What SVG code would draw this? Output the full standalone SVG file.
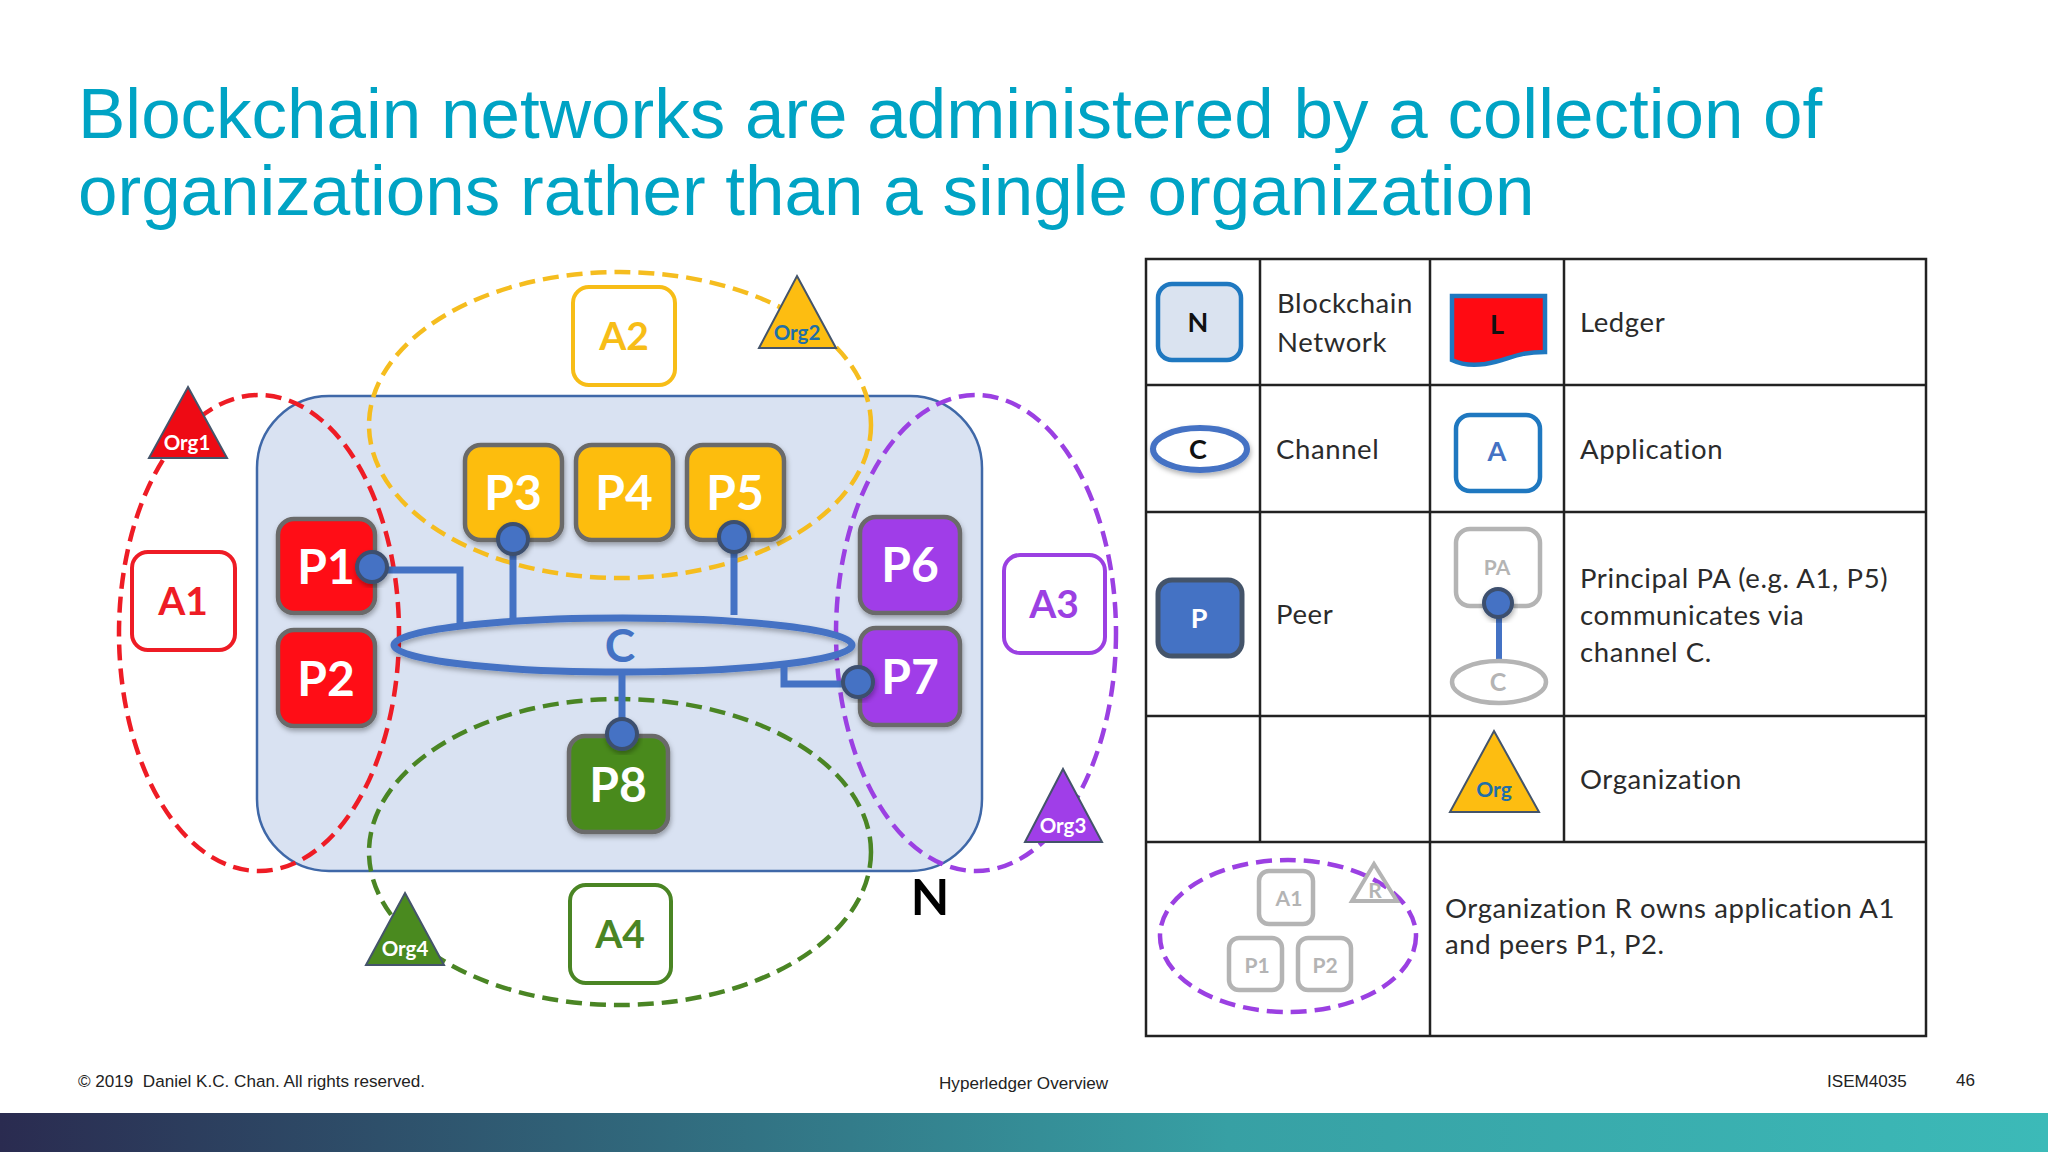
<svg xmlns="http://www.w3.org/2000/svg" width="2048" height="1152" viewBox="0 0 2048 1152">
<style>
text{font-family:"Lato","Liberation Sans",sans-serif;text-anchor:middle}
.title{font-family:"Liberation Sans",Arial,sans-serif;font-size:71px;fill:#00a3c4;text-anchor:start}
.foot{font-family:"Liberation Sans",Arial,sans-serif;font-size:17.1px;fill:#222;text-anchor:start;white-space:pre}
.peer{stroke:#6b6b6b;stroke-width:4.5;filter:url(#sh)}
.peertxt{fill:#fff;font-weight:700;font-size:48px}
.app{fill:#fff;stroke-width:4}
.apptxt{font-weight:700;font-size:39px}
.org{stroke:#44546a;stroke-width:2}
.orgtxt{font-weight:700;font-size:20.5px;fill:#fff}
.dash{fill:none;stroke-width:4.5;stroke-dasharray:16 8}
.dot{fill:#4472c4;stroke:#3c4f6e;stroke-width:4;filter:url(#sh)}
.wire{fill:none;stroke:#4472c4;stroke-width:7}
.grid{stroke:#222;stroke-width:2.5;fill:none}
.lg{fill:#2b2b2b;font-size:27.5px;text-anchor:start;letter-spacing:.6px}
.g{fill:#fff;stroke:#b4b4b4;stroke-width:4.5}
.gt{fill:#b4b4b4;font-weight:700;font-size:21px}
</style>
<defs>
<linearGradient id="bar"><stop offset="0" stop-color="#2a2b50"/><stop offset=".6" stop-color="#37a0a4"/><stop offset="1" stop-color="#3cbab8"/></linearGradient>
<filter id="sh" x="-20%" y="-20%" width="140%" height="140%"><feDropShadow dx="1" dy="3" stdDeviation="2.5" flood-color="#000" flood-opacity=".3"/></filter>
</defs>
<rect width="2048" height="1152" fill="#fff"/>
<text class="title" x="78" y="138">Blockchain networks are administered by a collection of</text>
<text class="title" x="78" y="215">organizations rather than a single organization</text>

<g id="network"><rect x="257" y="396" width="725" height="475" rx="72" fill="#d9e2f2" stroke="#3f68a8" stroke-width="2.5"/>
<text x="930" y="915" font-size="50" font-weight="700" fill="#000">N</text></g>

<g id="org-ellipses">
<ellipse class="dash" cx="259" cy="633" rx="140" ry="238" stroke="#ee1c25"/>
<ellipse class="dash" cx="620" cy="425" rx="251" ry="153" stroke="#f5bd1f"/>
<ellipse class="dash" cx="976" cy="633" rx="140" ry="238" stroke="#9b40e2"/>
<ellipse class="dash" cx="620" cy="852" rx="251" ry="153" stroke="#4a8524"/>
</g>

<g id="connectors">
<ellipse class="wire" cx="623" cy="645" rx="229" ry="27" style="filter:url(#sh)"/>
<path class="wire" d="M372 570H460V624M513 539V618M734 537V615M622 672V734M858 684H784V664"/>
</g>
<g id="channel"><text x="620" y="662" font-size="46" font-weight="700" fill="#4472c4">C</text></g>

<g id="A1"><rect class="app" x="132" y="552" width="103" height="98" rx="16" stroke="#ee1c25"/><text class="apptxt" x="183" y="615" fill="#ee1c25">A1</text></g>
<g id="A2"><rect class="app" x="573" y="287" width="102" height="98" rx="16" stroke="#f7bd17"/><text class="apptxt" x="624" y="350" fill="#f7bd17">A2</text></g>
<g id="A3"><rect class="app" x="1004" y="555" width="101" height="98" rx="16" stroke="#9b40e2"/><text class="apptxt" x="1054" y="618" fill="#9b40e2">A3</text></g>
<g id="A4"><rect class="app" x="570" y="885" width="101" height="98" rx="16" stroke="#4a8524"/><text class="apptxt" x="620" y="948" fill="#4a8524">A4</text></g>

<g id="P1"><rect class="peer" x="278" y="519" width="97" height="94" rx="16" fill="#ff0a12"/><text class="peertxt" x="326" y="584">P1</text></g>
<g id="P2"><rect class="peer" x="278" y="630" width="97" height="96" rx="16" fill="#ff0a12"/><text class="peertxt" x="326" y="696">P2</text></g>
<g id="P3"><rect class="peer" x="465" y="445" width="97" height="95" rx="16" fill="#fdbd11"/><text class="peertxt" x="513" y="510">P3</text></g>
<g id="P4"><rect class="peer" x="576" y="445" width="97" height="95" rx="16" fill="#fdbd11"/><text class="peertxt" x="624" y="510">P4</text></g>
<g id="P5"><rect class="peer" x="687" y="445" width="97" height="95" rx="16" fill="#fdbd11"/><text class="peertxt" x="735" y="510">P5</text></g>
<g id="P6"><rect class="peer" x="860" y="517" width="100" height="96" rx="16" fill="#a03ee8"/><text class="peertxt" x="910" y="582">P6</text></g>
<g id="P7"><rect class="peer" x="860" y="628" width="100" height="97" rx="16" fill="#a03ee8"/><text class="peertxt" x="910" y="694">P7</text></g>
<g id="P8"><rect class="peer" x="569" y="736" width="99" height="96" rx="16" fill="#4a8a1f"/><text class="peertxt" x="618" y="802">P8</text></g>

<g id="ports">
<circle class="dot" cx="372" cy="567" r="15"/><circle class="dot" cx="513" cy="539" r="15"/><circle class="dot" cx="734" cy="537" r="15"/><circle class="dot" cx="858" cy="682" r="15"/><circle class="dot" cx="622" cy="734" r="15"/>
</g>

<g id="Org1"><polygon class="org" points="188,387 227,458 149,458" fill="#ee0a14"/><text class="orgtxt" x="187" y="450">Org1</text></g>
<g id="Org2"><polygon class="org" points="797,276 836,348 759,348" fill="#fdbd11"/><text class="orgtxt" x="797" y="340" style="fill:#1f6fa8">Org2</text></g>
<g id="Org3"><polygon class="org" points="1063,769 1102,842 1025,842" fill="#a03ee8"/><text class="orgtxt" x="1063" y="833">Org3</text></g>
<g id="Org4"><polygon class="org" points="405,893 444,965 366,965" fill="#4a8a1f"/><text class="orgtxt" x="405" y="956">Org4</text></g>

<g id="legend-table">
<rect class="grid" x="1146" y="259" width="780" height="777"/>
<path class="grid" d="M1146 385H1926M1146 512H1926M1146 716H1926M1146 842H1926M1260 259V842M1430 259V1036M1564 259V842"/>
</g>
<g id="legend-network"><rect x="1158" y="284" width="83" height="76" rx="14" fill="#dae3f0" stroke="#1f78c0" stroke-width="4.5"/><text x="1198" y="332" font-size="27" font-weight="700" fill="#111">N</text>
<text class="lg" x="1277" y="313">Blockchain</text><text class="lg" x="1277" y="352">Network</text></g>
<g id="legend-ledger"><path d="M1452 296H1545V352C1515 352 1510 360 1485 364C1470 366 1460 364 1452 360Z" fill="#ff0a12" stroke="#1f78c0" stroke-width="4.5"/><text x="1497" y="334" font-size="27" font-weight="700" fill="#111">L</text>
<text class="lg" x="1580" y="332">Ledger</text></g>
<g id="legend-channel"><ellipse cx="1200" cy="449" rx="47" ry="21" fill="#fff" stroke="#4472c4" stroke-width="6" filter="url(#sh)"/><text x="1198" y="459" font-size="27" font-weight="700" fill="#111">C</text>
<text class="lg" x="1276" y="459">Channel</text></g>
<g id="legend-application"><rect x="1456" y="415" width="84" height="76" rx="14" fill="#fff" stroke="#1f78c0" stroke-width="4.5"/><text x="1497" y="461" font-size="27" font-weight="700" fill="#4472c4">A</text>
<text class="lg" x="1580" y="459">Application</text></g>
<g id="legend-peer"><rect x="1158" y="580" width="84" height="76" rx="14" fill="#4472c4" stroke="#44546a" stroke-width="5"/><text x="1199" y="628" font-size="27" font-weight="700" fill="#fff">P</text>
<text class="lg" x="1276" y="624">Peer</text></g>
<g id="legend-principal"><rect class="g" x="1456" y="529" width="84" height="77" rx="14"/><text class="gt" x="1497" y="575">PA</text>
<path d="M1499 605V662" stroke="#4472c4" stroke-width="6"/>
<ellipse class="g" cx="1499" cy="682" rx="47" ry="21"/><text class="gt" x="1498" y="691" style="font-size:25px">C</text>
<circle class="dot" cx="1498" cy="603" r="14"/>
<text class="lg" x="1580" y="588">Principal PA (e.g. A1, P5)</text><text class="lg" x="1580" y="625">communicates via</text><text class="lg" x="1580" y="662">channel C.</text></g>
<g id="legend-org"><polygon points="1494,731 1539,812 1450,812" fill="#fdbd11" stroke="#44546a" stroke-width="2"/><text x="1494" y="797" font-size="21" font-weight="700" fill="#1f6fa8">Org</text>
<text class="lg" x="1580" y="789">Organization</text></g>
<g id="legend-owner"><ellipse class="dash" cx="1288" cy="936" rx="128" ry="76" stroke="#9b40e2"/>
<rect class="g" x="1259" y="871" width="54" height="53" rx="10"/><text class="gt" x="1289" y="906">A1</text>
<rect class="g" x="1229" y="938" width="53" height="52" rx="10"/><text class="gt" x="1257" y="973">P1</text>
<rect class="g" x="1298" y="938" width="53" height="52" rx="10"/><text class="gt" x="1325" y="973">P2</text>
<polygon points="1374,864 1397,901 1352,901" fill="none" stroke="#b4b4b4" stroke-width="4"/><text class="gt" x="1375" y="898">R</text>
<text class="lg" x="1445" y="918">Organization R owns application A1</text><text class="lg" x="1445" y="954">and peers P1, P2.</text></g>

<text class="foot" x="78" y="1087">© 2019  Daniel K.C. Chan. All rights reserved.</text>
<text class="foot" x="939" y="1089">Hyperledger Overview</text>
<text class="foot" x="1827" y="1087">ISEM4035</text>
<text class="foot" x="1956" y="1086">46</text>
<rect x="0" y="1113" width="2048" height="39" fill="url(#bar)"/>
</svg>
